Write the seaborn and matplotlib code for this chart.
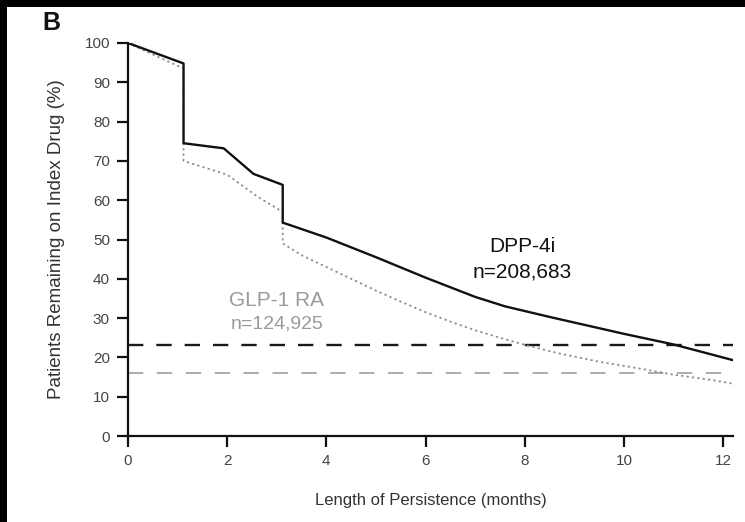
import matplotlib
matplotlib.use("Agg")
import matplotlib.pyplot as plt
from matplotlib.patches import Rectangle
import seaborn as sns
import pandas as pd

# ---- data ----
dpp_months = [0, 1.12, 1.12, 1.93, 2.53, 3.12, 3.12, 4, 5, 6, 7, 7.6, 8.5, 10, 11, 12.2]
dpp_values = [100, 94.8, 74.5, 73.2, 66.7, 63.9, 54.3, 50.5, 45.5, 40.3, 35.4, 33.0, 30.3, 26.0, 23.3, 19.3]

glp_months = [0, 1.12, 1.12, 2, 2.6, 3.12, 3.12, 3.5, 4, 5, 5.5, 6, 6.5, 7, 7.5, 8, 8.7, 9.5, 10.4, 11, 11.8, 12.2]
glp_values = [100, 93.5, 70, 66.5, 61, 57, 49, 46, 43, 37, 34.2, 31.5, 29.1, 26.9, 25.0, 23.2, 21.0, 18.9, 17, 15.6, 14.2, 13.3]

ref_months = [0, 12.2]
dpp_ref = [23.2, 23.2]
glp_ref = [16, 16]

x_ticks = [0, 2, 4, 6, 8, 10, 12]
y_ticks = [0, 10, 20, 30, 40, 50, 60, 70, 80, 90, 100]

# ---- plotting ----
sns.set_theme(style="white")
plt.rcParams['font.family'] = ['Liberation Sans', 'DejaVu Sans']

fig = plt.figure(figsize=(7.45, 5.22), dpi=100)
fig.patch.set_facecolor("white")
ax = fig.add_axes([128/745, 1 - 436/522, (733 - 128)/745, (436 - 43)/522])
ax.set_facecolor("white")

dpp_df = pd.DataFrame({"month": dpp_months, "value": dpp_values})
glp_df = pd.DataFrame({"month": glp_months, "value": glp_values})
ref_df = pd.DataFrame({"month": ref_months, "dpp": dpp_ref, "glp": glp_ref})

sns.lineplot(data=ref_df, x="month", y="dpp", ax=ax, color="#1a1a1a",
             linewidth=1.7, linestyle=(0, (6.5, 5.5)), sort=False, estimator=None)
sns.lineplot(data=ref_df, x="month", y="glp", ax=ax, color="#a6a6a6",
             linewidth=1.3, linestyle=(0, (8.5, 7.5)), sort=False, estimator=None)
sns.lineplot(data=glp_df, x="month", y="value", ax=ax, color="#8c8c8c",
             linewidth=1.3, linestyle=(0, (1.2, 1.8)), sort=False, estimator=None)
sns.lineplot(data=dpp_df, x="month", y="value", ax=ax, color="#111111",
             linewidth=1.7, sort=False, estimator=None)

ax.set_xlim(0, 12.2)
ax.set_ylim(0, 100)
ax.set_xticks(x_ticks)
ax.set_yticks(y_ticks)
ax.set_xticklabels([str(v) for v in x_ticks])
ax.set_yticklabels([str(v) for v in y_ticks])

for s in ["top", "right"]:
    ax.spines[s].set_visible(False)
for s in ["left", "bottom"]:
    ax.spines[s].set_color("#111111")
    ax.spines[s].set_linewidth(1.6)
ax.tick_params(axis="both", which="major", direction="out", length=8, width=1.6,
               color="#111111", labelsize=11, labelcolor="#444444", pad=5,
               bottom=True, left=True)

ax.set_xlabel("Length of Persistence (months)", fontsize=12, color="#333333", labelpad=18)
ax.set_ylabel("Patients Remaining on Index Drug (%)", fontsize=13.5, color="#333333", labelpad=14)

ax.text(7.95, 48.1, "DPP-4i", ha="center", va="center", fontsize=15, color="#111111")
ax.text(7.95, 41.7, "n=208,683", ha="center", va="center", fontsize=15, color="#111111")
ax.text(3.0, 34.6, "GLP-1 RA", ha="center", va="center", fontsize=15, color="#9a9a9a")
ax.text(3.0, 28.5, "n=124,925", ha="center", va="center", fontsize=14, color="#9a9a9a")

fig.text(42/745, 1 - 23/522, "B", fontsize=18, fontweight="bold", color="#111111",
         ha="left", va="center")

# black scan borders (top and left)
fig.patches.append(Rectangle((0, 1 - 7/522), 1, 7/522, transform=fig.transFigure,
                             facecolor="black", edgecolor="none", zorder=10))
fig.patches.append(Rectangle((0, 0), 7/745, 1, transform=fig.transFigure,
                             facecolor="black", edgecolor="none", zorder=10))

fig.savefig("out.png", dpi=100, facecolor="white")
